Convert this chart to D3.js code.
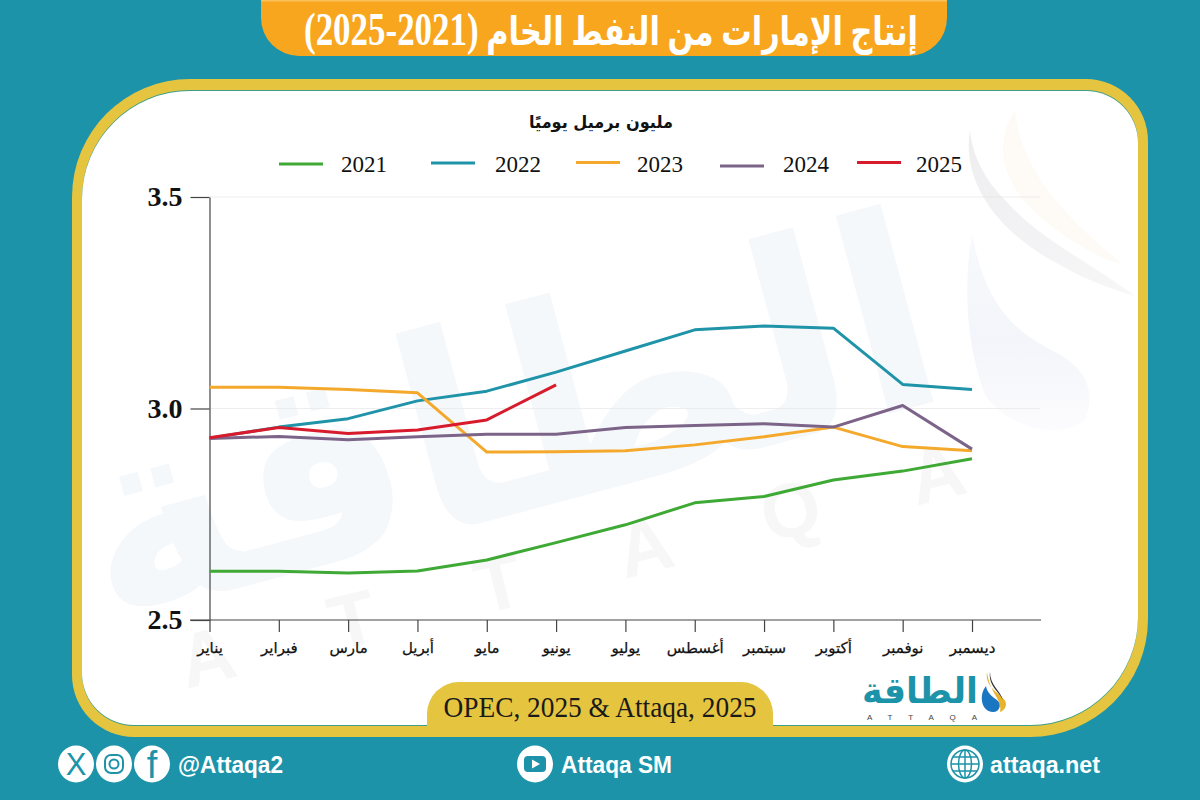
<!DOCTYPE html>
<html lang="ar"><head><meta charset="utf-8">
<script src="https://cdn.jsdelivr.net/npm/d3@7"></script>
<style>html,body{margin:0;padding:0;background:#1c93a9}svg{display:block}</style>
</head><body><div id="c"></div>
<script>
const months = ["يناير","فبراير","مارس","أبريل","مايو","يونيو","يوليو","أغسطس","سبتمبر","أكتوبر","نوفمبر","ديسمبر"];
const y2021 = [2.615,2.615,2.611,2.616,2.642,2.683,2.725,2.777,2.792,2.831,2.852,2.881];
const y2022 = [2.930,2.956,2.976,3.018,3.041,3.086,3.136,3.186,3.195,3.190,3.057,3.045];
const y2023 = [3.050,3.050,3.045,3.037,2.897,2.898,2.900,2.914,2.933,2.956,2.910,2.900];
const y2024 = [2.929,2.934,2.926,2.933,2.939,2.939,2.955,2.960,2.964,2.956,3.007,2.904];
const y2025 = [2.931,2.955,2.941,2.949,2.973,3.056];
const seriesNames = ["2021","2022","2023","2024","2025"];
const seriesValues = [y2021,y2022,y2023,y2024,y2025];
const seriesColors = ["#3fa935","#1f94a9","#f4a92c","#7c6489","#d81b2c"];
const yTicks = [2.5,3.0,3.5];
const titleWords = "إنتاج الإمارات من النفط الخام ";
const titleYears = "(2021-2025)";
const unitText = "مليون برميل يوميًا";
const sourceText = "OPEC, 2025 & Attaqa, 2025";

const legendLineX = [279,431,576,720,857];
const legendLineY = [164,163,162.5,166,162.5];
const legendTextX = [341,495,637,783,916];

const svg = d3.select("#c").append("svg").attr("width",1200).attr("height",800).attr("viewBox","0 0 1200 800");
const AR = "'DejaVu Sans',sans-serif", SERIF = "'Liberation Serif',serif", SANS="'Liberation Sans',sans-serif";
const BG="#1c93a9", YEL="#e5c440", ORG="#f9a61f";
svg.append("rect").attr("width",1200).attr("height",800).attr("fill",BG);

const defs = svg.append("defs");
const fade = defs.append("linearGradient").attr("id","fade").attr("x1",0).attr("y1",0).attr("x2",0).attr("y2",1);
fade.append("stop").attr("offset","0%").attr("stop-color","#f8f9fc");
fade.append("stop").attr("offset","55%").attr("stop-color","#f4f5fa");
fade.append("stop").attr("offset","100%").attr("stop-color","#fcfcfe");
const fade2 = defs.append("linearGradient").attr("id","fade2").attr("x1",0).attr("y1",0).attr("x2",1).attr("y2",1);
fade2.append("stop").attr("offset","0%").attr("stop-color","#eeeef0");
fade2.append("stop").attr("offset","100%").attr("stop-color","#f7f7f8");

function panel(x0,y0,x1,y1,tl,tr,br,bl){
  return `M${x0+tl},${y0}H${x1-tr}A${tr},${tr} 0 0 1 ${x1},${y0+tr}V${y1-br}A${br},${br} 0 0 1 ${x1-br},${y1}H${x0+bl}A${bl},${bl} 0 0 1 ${x0},${y1-bl}V${y0+tl}A${tl},${tl} 0 0 1 ${x0+tl},${y0}Z`;
}
svg.append("path").attr("d",panel(72,79,1148,737,118,62,118,62)).attr("fill",YEL);
svg.append("path").attr("d",panel(82,90,1138,726,108,52,108,52)).attr("fill","#3d9d86");
svg.append("path").attr("d",panel(82,91,1138,725,108,52,108,52)).attr("fill","#fff");

// watermark
const wm = svg.append("g");
wm.append("text").attr("transform","translate(530,510) rotate(-15)").attr("text-anchor","middle")
  .attr("font-family",AR).attr("font-weight",700).attr("font-size",270).attr("fill","#f5f8fb")
  .attr("direction","rtl").attr("textLength",880).attr("lengthAdjust","spacingAndGlyphs").text("الطاقة");
const wmLetters = ["A","T","T","A","Q","A"];
wmLetters.forEach((l,i)=>{
  const cx=213+146*i, cy=682-36.6*i;
  wm.append("text").attr("transform",`translate(${cx},${cy}) rotate(-14)`).attr("text-anchor","middle")
   .attr("font-family",SANS).attr("font-weight",700).attr("font-size",76).attr("fill","#f7f7f8").text(l);
});
wm.append("path").attr("d","M972,235C985,300 1010,330 1055,352C1090,370 1095,395 1085,420C1060,440 1010,430 985,395C968,350 962,290 972,235Z").attr("fill","url(#fade)");
wm.append("path").attr("d","M970,130C960,190 1010,240 1060,265C1090,282 1115,290 1135,296C1090,262 1040,240 1005,200C985,180 972,155 970,130Z").attr("fill","url(#fade2)");
wm.append("path").attr("d","M1015,110C990,150 1005,190 1050,225C1080,248 1105,260 1122,264C1075,225 1020,175 1015,110Z").attr("fill","#fefaf6");
wm.append("ellipse").attr("cx",1073).attr("cy",335).attr("rx",6).attr("ry",8).attr("fill","#fff");

// title
svg.append("path").attr("d","M261,0H947V18A38,38 0 0 1 909,56H299A38,38 0 0 1 261,18Z").attr("fill",ORG);
svg.append("rect").attr("x",261).attr("width",686).attr("height",1.5).attr("fill","#fbc25c");
const tt = svg.append("text").attr("x",611).attr("y",45).attr("text-anchor","middle").attr("direction","rtl")
  .attr("font-family",SERIF+","+AR).attr("font-weight",700).attr("font-size",40).attr("fill","#fff")
  .attr("textLength",614).attr("lengthAdjust","spacingAndGlyphs");
tt.append("tspan").text(titleWords);
tt.append("tspan").attr("font-size",46).text(titleYears);

// unit
svg.append("text").attr("x",601).attr("y",128).attr("text-anchor","middle").attr("direction","rtl")
  .attr("font-family",AR).attr("font-weight",700).attr("font-size",17).attr("fill","#111")
  .attr("textLength",144).attr("lengthAdjust","spacingAndGlyphs").text(unitText);

// scales
const x = d3.scalePoint().domain(months).range([209.5,972]);
const y = d3.scaleLinear().domain([2.5,3.5]).range([620,197]);

// gridlines
svg.append("g").selectAll("line").data(yTicks.slice(1)).join("line")
  .attr("x1",209.5).attr("x2",1040).attr("y1",d=>y(d)).attr("y2",d=>y(d))
  .attr("stroke","#e6e6e6").attr("stroke-width",0.8).attr("opacity",.8);

// axes
const gy = svg.append("g").attr("transform","translate(209.5,0)")
  .call(d3.axisLeft(y).tickValues(yTicks).tickFormat(d3.format(".1f")).tickSize(19).tickSizeOuter(0));
gy.selectAll("line,path").attr("stroke","#444").attr("stroke-width",1.2);
gy.selectAll("text").attr("font-family",SERIF).attr("font-weight",700).attr("font-size",28).attr("fill","#111").attr("x",-27).attr("dy","0.32em");

const gx = svg.append("g").attr("transform","translate(0,620)")
  .call(d3.axisBottom(x).tickSize(12).tickSizeOuter(0));
gx.select("path").remove();
gx.append("line").attr("x1",190).attr("x2",1041).attr("stroke","#444").attr("stroke-width",1.2);
gx.selectAll(".tick line").attr("stroke","#444").attr("stroke-width",1.2);
gx.selectAll("text").attr("font-family",AR).attr("font-size",15).attr("fill","#111").attr("stroke","#111").attr("stroke-width",0.25).attr("y",22).attr("dy","0.71em").attr("direction","rtl");

// lines
const line = d3.line().x((d,i)=>x(months[i])).y(d=>y(d));
svg.append("g").selectAll("path").data(seriesValues).join("path")
  .attr("d",d=>line(d)).attr("fill","none").attr("stroke-width",3)
  .attr("stroke",(d,i)=>seriesColors[i]).attr("stroke-linejoin","round");

// legend
const lg = svg.append("g");
seriesNames.forEach((n,i)=>{
  lg.append("line").attr("x1",legendLineX[i]).attr("x2",legendLineX[i]+44)
    .attr("y1",legendLineY[i]).attr("y2",legendLineY[i]).attr("stroke",seriesColors[i]).attr("stroke-width",3);
  lg.append("text").attr("x",legendTextX[i]).attr("y",172).attr("font-family",SERIF)
    .attr("font-size",23).attr("fill","#111").text(n);
});

// source pill
svg.append("path").attr("d","M427,726V714A32,32 0 0 1 459,682H741A32,32 0 0 1 773,714V726Z").attr("fill",YEL);
svg.append("text").attr("x",600).attr("y",717).attr("text-anchor","middle").attr("font-family",SERIF)
  .attr("font-size",29).attr("fill","#1a1a1a").attr("textLength",313).attr("lengthAdjust","spacingAndGlyphs").text(sourceText);

// logo
const logo = svg.append("g");
logo.append("text").attr("x",920).attr("y",703).attr("text-anchor","middle").attr("direction","rtl")
 .attr("font-family",AR).attr("font-weight",700).attr("font-size",36).attr("fill",BG)
 .attr("textLength",116).attr("lengthAdjust","spacingAndGlyphs").text("الطاقة");
logo.append("text").attr("x",922).attr("y",720).attr("text-anchor","middle").attr("font-family",SANS)
 .attr("font-size",8).attr("fill","#444").attr("textLength",110).text("ATTAQA");
logo.append("path").attr("d","M987,672C984,690 1006,695 1006,704C1006,708 1003,711 1000,712C1003,700 990,694 987,672Z").attr("fill","#e8b32a");
logo.append("path").attr("d","M990,672C988,685 999,692 1003,700C1000,690 990,685 990,672Z").attr("fill","#333");
logo.append("path").attr("d","M986,686C978,696 982,712 993,712C1000,712 1002,704 997,700C991,696 987,692 986,686Z").attr("fill","#1a76c0");

// footer
const foot = svg.append("g");
const white="#fff";
[76,114,152,535,965].forEach(cx=>foot.append("ellipse").attr("cx",cx).attr("cy",764).attr("rx",18).attr("ry",18.5).attr("fill",white));
foot.append("text").attr("x",76).attr("y",775).attr("text-anchor","middle").attr("font-family",SANS).attr("font-size",31).attr("fill",BG).text("X");
foot.append("rect").attr("x",105).attr("y",755).attr("width",18).attr("height",18).attr("rx",6).attr("fill","none").attr("stroke",BG).attr("stroke-width",2);
foot.append("circle").attr("cx",114).attr("cy",764).attr("r",4.5).attr("fill","none").attr("stroke",BG).attr("stroke-width",2);
foot.append("text").attr("x",152).attr("y",778).attr("text-anchor","middle").attr("font-family",SANS).attr("font-size",38).attr("fill",BG).text("f");
foot.append("rect").attr("x",524).attr("y",756).attr("width",22).attr("height",16).attr("rx",4).attr("fill",BG);
foot.append("path").attr("d","M532,759.5L540,764L532,768.5Z").attr("fill",white);
foot.append("circle").attr("cx",965).attr("cy",764).attr("r",14).attr("fill","none").attr("stroke",BG).attr("stroke-width",1.5);
foot.append("ellipse").attr("cx",965).attr("cy",764).attr("rx",6.5).attr("ry",14).attr("fill","none").attr("stroke",BG).attr("stroke-width",1.5);
foot.append("path").attr("d","M951,764H979M953,757H977M953,771H977M965,750V778").attr("stroke",BG).attr("stroke-width",1.5);
[["@Attaqa2",178,105],["Attaqa SM",561,111],["attaqa.net",990,110]].forEach(([t,xx,w])=>{
  foot.append("text").attr("x",xx).attr("y",773).attr("font-family",SANS).attr("font-weight",700).attr("font-size",24)
    .attr("fill",white).attr("textLength",w).attr("lengthAdjust","spacingAndGlyphs").text(t);
});
</script></body></html>
